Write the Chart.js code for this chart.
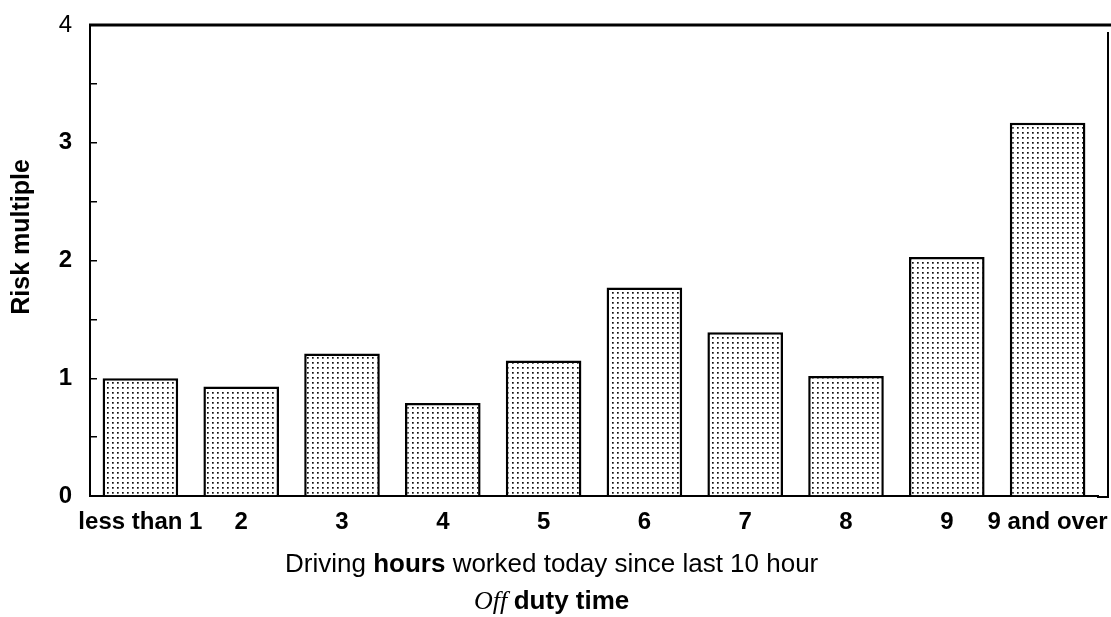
<!DOCTYPE html>
<html>
<head>
<meta charset="utf-8">
<script src="https://cdn.jsdelivr.net/npm/chart.js@4"></script>
<style>
html, body { margin: 0; padding: 0; background: #fff; }
#wrap { width: 1111px; height: 617px; position: relative; }
</style>
</head>
<body>
<div id="wrap"><canvas id="risk"></canvas></div>
<script>
// values
const categories = ['less than 1', '2', '3', '4', '5', '6', '7', '8', '9', '9 and over'];
const riskMultiple = [1.0, 0.93, 1.21, 0.79, 1.15, 1.77, 1.39, 1.02, 2.03, 3.17];
const yTickLabels = ['0', '1', '2', '3', '4'];
const yTitle = 'Risk multiple';
const xTitleLine1 = ['Driving ', 'hours', ' worked today since last 10 hour'];
const xTitleLine2 = ['Off ', 'duty time'];

const sans = "'Liberation Sans', Arial, sans-serif";

// dotted fill like the print screen
function dotPattern() {
    let c = document.createElement('canvas');
    c.width = 5;
    c.height = 5;
    let g = c.getContext('2d');
    g.fillStyle = '#fff';
    g.fillRect(0, 0, 5, 5);
    g.fillStyle = '#111';
    g.fillRect(2, 2, 1.7, 1.7);
    return g.createPattern(c, 'repeat');
}

function drawRich(ctx, parts, cx, y) {
    let w = 0;
    parts.forEach(function(p) {
        ctx.font = p.font;
        w += ctx.measureText(p.text).width;
    });
    let x = cx - w / 2;
    parts.forEach(function(p) {
        ctx.font = p.font;
        ctx.fillText(p.text, x, y);
        x += ctx.measureText(p.text).width;
    });
}

const frameAndTitle = {
    id: 'frameAndTitle',
    afterDraw(chart) {
        const ctx = chart.ctx, a = chart.chartArea;
        ctx.save();
        ctx.strokeStyle = '#000';
        ctx.lineWidth = 3;
        ctx.beginPath();
        ctx.moveTo(a.left - 1, a.top);
        ctx.lineTo(chart.width, a.top);
        ctx.stroke();
        ctx.lineWidth = 2;
        ctx.beginPath();
        ctx.moveTo(a.right + 10, a.top + 7);
        ctx.lineTo(a.right + 10, a.bottom + 1);
        ctx.lineTo(a.right - 1, a.bottom + 1);
        ctx.stroke();

        ctx.fillStyle = '#000';
        ctx.textBaseline = 'middle';
        let cx = a.left + (a.right - a.left) * 0.458;
        drawRich(ctx, [
            { text: xTitleLine1[0], font: '26px ' + sans },
            { text: xTitleLine1[1], font: 'bold 26px ' + sans },
            { text: xTitleLine1[2], font: '26px ' + sans }
        ], cx, chart.height - 52);
        drawRich(ctx, [
            { text: xTitleLine2[0], font: "italic 26px 'Liberation Serif', 'Times New Roman', serif" },
            { text: xTitleLine2[1], font: 'bold 26px ' + sans }
        ], cx, chart.height - 15);

        // y axis title, a bit above the middle as in the scan
        ctx.save();
        ctx.translate(22, a.top + (a.bottom - a.top) * 0.45);
        ctx.rotate(-Math.PI / 2);
        ctx.textAlign = 'center';
        ctx.font = 'bold 25px ' + sans;
        ctx.fillText(yTitle, 0, 0);
        ctx.restore();
        ctx.restore();
    }
};

var ctx = document.getElementById('risk').getContext('2d');
var chart = new Chart(ctx, {
    type: 'bar',
    data: {
        labels: categories,
        datasets: [{
            data: riskMultiple,
            backgroundColor: dotPattern(),
            borderColor: '#000',
            borderWidth: 2.5,
            categoryPercentage: 1,
            barPercentage: 0.75
        }]
    },
    options: {
        responsive: true,
        maintainAspectRatio: false,
        animation: false,
        devicePixelRatio: 1,
        layout: { padding: { left: 8, top: 25, right: 13, bottom: 0 } },
        plugins: {
            legend: { display: false },
            tooltip: { enabled: false }
        },
        scales: {
            x: {
                grid: { display: false, drawTicks: false },
                border: { color: '#000', width: 2 },
                ticks: {
                    color: '#000',
                    padding: 12,
                    maxRotation: 0,
                    autoSkip: false,
                    font: { family: sans, size: 24, weight: 'bold' }
                },
                afterFit(s) {
                    s.height = 121;
                    s.paddingLeft = 0;
                    s.paddingRight = 0;
                }
            },
            y: {
                min: 0,
                max: 4,
                grid: { drawOnChartArea: false, drawTicks: true, tickLength: -7, color: '#000', lineWidth: 1.5 },
                border: { color: '#000', width: 2 },
                ticks: {
                    stepSize: 0.5,
                    color: '#000',
                    padding: 25,
                    font: function(c) {
                        return { family: sans, size: 24, weight: c.tick && c.tick.value === 4 ? 'normal' : 'bold' };
                    },
                    callback: function(v) {
                        return Number.isInteger(v) ? yTickLabels[v] : '';
                    }
                },
                afterFit(s) {
                    s.width = 82;
                    s.paddingTop = 0;
                    s.paddingBottom = 0;
                }
            }
        }
    },
    plugins: [frameAndTitle]
});
</script>
</body>
</html>
